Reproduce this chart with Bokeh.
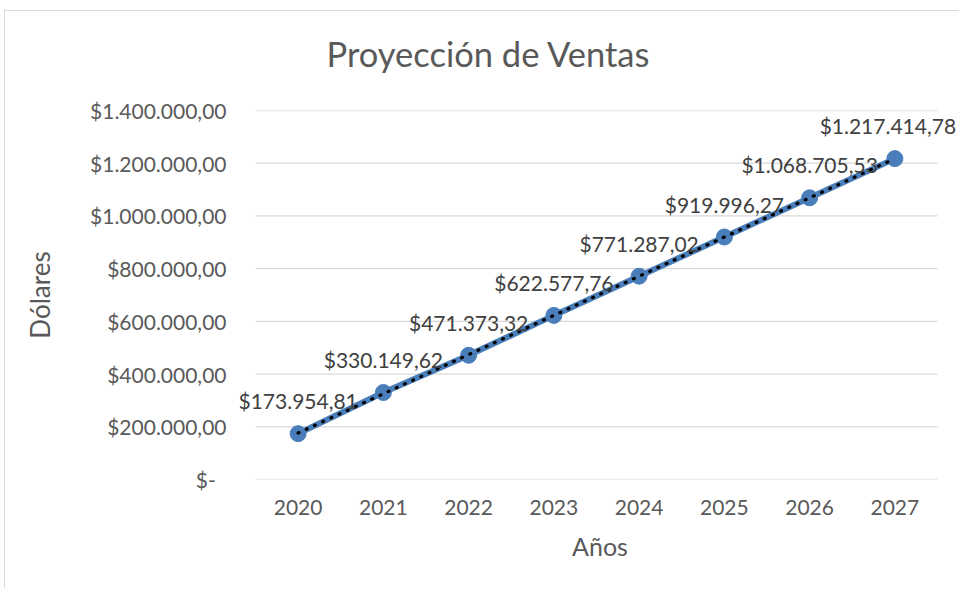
import numpy as np
from bokeh.plotting import figure
from bokeh.models import (ColumnDataSource, LabelSet, Range1d, Title,
                          CustomJSTickFormatter, FixedTicker)
from bokeh.core.properties import value
from bokeh.embed import file_html
from bokeh.resources import INLINE

years = ["2020", "2021", "2022", "2023", "2024", "2025", "2026", "2027"]
ventas = [173954.81, 330149.62, 471373.32, 622577.76, 771287.02,
          919996.27, 1068705.53, 1217414.78]
y_ticks = [0, 200000, 400000, 600000, 800000, 1000000, 1200000, 1400000]
label_dx = [0, 0, 0, 0, 0, 0, 0, -7]   # last label nudged to stay inside the chart


def fmt_money(v):
    s = f"{v:,.2f}"
    s = s.replace(",", "X").replace(".", ",").replace("X", ".")
    return "$" + s


labels = [fmt_money(v) for v in ventas]
xpos = list(range(len(years)))

# linear trendline (least squares), as Excel draws it
slope, intercept = np.polyfit(np.array(xpos), np.array(ventas), 1)
trend = [intercept + slope * i for i in xpos]

# layout geometry (page pixels); chart box starts at (4, 10) with a 1px border
OX, OY = 5, 11
W, H = 960 - OX, 589 - OY
FRAME_L, CAT_L, CAT_R, FRAME_R = 239, 255, 937, 960
TOP, BOTTOM = 110, 479
n = len(years)
unit = (CAT_R - CAT_L) / n
x_start = -0.5 - (CAT_L - FRAME_L) / unit
x_end = n - 0.5 + (FRAME_R - CAT_R) / unit

FONT = "Lato"
TXT = "#595959"

p = figure(width=W, height=H, output_backend="svg", toolbar_location=None,
           x_range=Range1d(x_start, x_end), y_range=Range1d(0, 1400000),
           min_border_left=FRAME_L - OX, min_border_right=960 - FRAME_R,
           min_border_top=TOP - OY, min_border_bottom=589 - BOTTOM,
           title="Proyección de Ventas")
p.margin = (OY - 1, 0, 0, OX - 1)
p.styles = {"border-top": "1px solid #d9d9d9", "border-left": "1px solid #d9d9d9"}

p.outline_line_color = None
p.background_fill_color = "white"
p.border_fill_color = "white"

p.title.text_font = FONT
p.title.text_font_size = "34.5px"
p.title.text_font_style = "normal"
p.title.text_color = TXT
p.title.align = "left"
p.title.offset = 87
p.title.standoff = 10

# invisible spacer between the title and the plot area
p.add_layout(Title(text=" ", text_font_size="1px", standoff=29), "above")

for ax in (p.xaxis, p.yaxis):
    ax.axis_line_color = None
    ax.major_tick_line_color = None
    ax.minor_tick_line_color = None
    ax.major_tick_out = 0
    ax.major_tick_in = 0
    ax.major_label_text_font = FONT
    ax.major_label_text_font_size = "21px"
    ax.major_label_text_color = TXT
    ax.axis_label_text_font = FONT
    ax.axis_label_text_font_style = "normal"
    ax.axis_label_text_color = TXT

p.xaxis.axis_label = "Años"
p.xaxis.axis_label_text_font_size = "25px"
p.yaxis.axis_label = "Dólares"
p.yaxis.axis_label_text_font_size = "26px"
p.xaxis.major_label_standoff = 20
p.xaxis.axis_label_standoff = 13
p.yaxis.major_label_standoff = 13
p.yaxis.axis_label_standoff = 31

p.xaxis.ticker = FixedTicker(ticks=xpos)
p.xaxis.major_label_overrides = {i: y for i, y in zip(xpos, years)}

p.yaxis.ticker = FixedTicker(ticks=y_ticks)
p.yaxis.formatter = CustomJSTickFormatter(code="""
    if (Math.abs(tick) < 0.5) { return "$-\u00a0\u00a0"; }
    const s = Math.round(tick).toString().replace(/\\B(?=(\\d{3})+(?!\\d))/g, ".");
    return "$" + s + ",00";
""")

p.xgrid.grid_line_color = None
p.ygrid.grid_line_color = None

# horizontal gridlines spanning only the category band
p.segment(x0=[-0.5] * len(y_ticks), x1=[n - 0.5] * len(y_ticks),
          y0=y_ticks, y1=y_ticks, line_color="#d9d9d9", line_width=1.3)

src = ColumnDataSource(dict(x=xpos, y=ventas, lab=labels, trend=trend, dx=label_dx))

BLUE = "#4A7EBB"
p.line("x", "y", source=src, line_color=BLUE, line_width=6)
p.scatter("x", "y", source=src, size=16, fill_color=BLUE, line_color=BLUE)
p.line("x", "trend", source=src, line_color="black", line_width=3.2,
       line_dash="1 8", line_cap="round")

lbl = LabelSet(x="x", y="y", text="lab", source=src, text_align="center",
               text_baseline="middle", y_offset=33, x_offset="dx",
               text_font=value(FONT), text_font_size="21px", text_color="#404040")
p.add_layout(lbl)

open("out.html", "w").write(file_html(p, INLINE))
